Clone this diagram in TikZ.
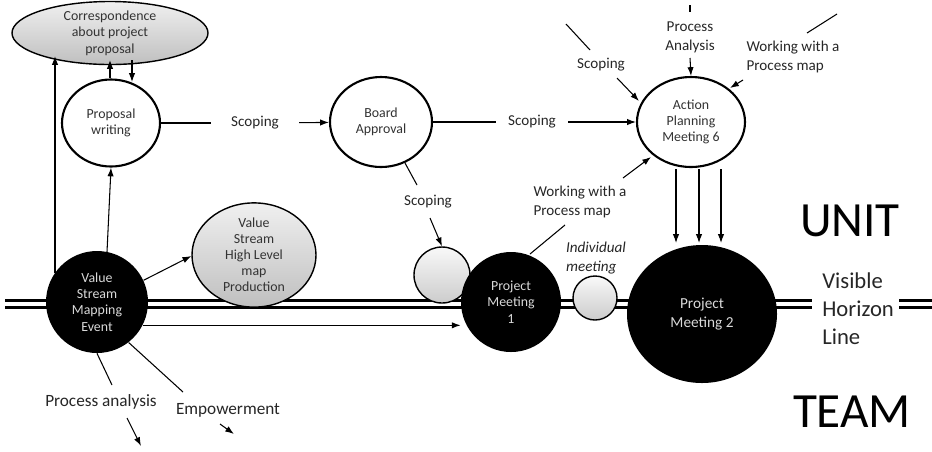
\documentclass[tikz,border=0pt]{standalone}
\usepackage{fontspec}
\setmainfont{Carlito}
\usetikzlibrary{arrows.meta,shapes.geometric,calc}
\newlength\pu \setlength\pu{0.02cm}
\begin{document}
\begin{tikzpicture}[x=0.02cm,y=-0.02cm,
  arr/.style={-{Latex[length=5pt,width=3.6pt]},line width=0.6pt},
  ln/.style={line width=0.6pt},
  nfont/.style={font=\fontsize{7.9}{9.3}\selectfont},
  wnode/.style={ellipse,draw,line width=1.2pt,fill=white,inner sep=0pt,align=center,nfont,text=black!80},
  gnode/.style={ellipse,draw,line width=0.8pt,top color=gray!12,bottom color=gray!50,inner sep=0pt,align=center,nfont,text=black!80},
  bnode/.style={circle,fill=black,inner sep=0pt,align=center,text=white!85!black,nfont},
  sgnode/.style={circle,draw,line width=0.8pt,top color=gray!5,bottom color=gray!40,inner sep=0pt},
  lbl/.style={align=center,font=\fontsize{8.6}{10.8}\selectfont,text=black!85,inner sep=1pt},
  blbl/.style={align=center,font=\fontsize{9.8}{12}\selectfont,text=black!85,inner sep=1pt},
  horizon/.style={line width=1.7pt}
]
\useasboundingbox (0,0) rectangle (932,451);

% horizon line
\draw[horizon] (5,300) -- (812,300) (5,307.5) -- (812,307.5);
\draw[horizon] (899,300) -- (932,300) (899,307.5) -- (932,307.5);

% nodes
\node[gnode,minimum width=196\pu,minimum height=55\pu] (corr) at (110,33) {Correspondence\\about project\\proposal};
\node[wnode,minimum width=98\pu,minimum height=87\pu] (prop) at (111,123) {Proposal\\writing};
\node[wnode,minimum width=102\pu,minimum height=90\pu] (board) at (381,122) {Board\\Approval};
\node[wnode,minimum width=108\pu,minimum height=90\pu] (apm) at (691,122) {Action\\Planning\\Meeting 6};
\node[bnode,minimum size=102\pu] (vsm) at (97,302) {Value\\Stream\\Mapping\\Event};
\node[gnode,minimum width=124\pu,minimum height=86\pu,font=\fontsize{7.9}{9.1}\selectfont] (vshl) at (254,255) {Value\\Stream\\High Level\\map\\Production};
\node[sgnode,minimum size=56\pu] (sg1) at (442,275) {};
\node[bnode,minimum size=100\pu] (pm1) at (511,302) {Project\\Meeting\\1};
\node[sgnode,minimum size=44\pu] (sg2) at (595,298) {};
\node[bnode,ellipse,minimum width=150\pu,minimum height=138\pu,font=\fontsize{8.7}{10.5}\selectfont] (pm2) at (702,314) {Project\\Meeting 2};

% labels
\node[lbl,inner xsep=20\pu] (sA) at (255,123) {Scoping};
\node[lbl,inner xsep=12\pu] (sB) at (532,122) {Scoping};
\node[lbl] (sC) at (601,65) {Scoping};
\node[lbl] (sD) at (428,202) {Scoping};
\node[lbl] (pa) at (690,37) {Process\\Analysis};
\node[lbl,align=left] (wpU) at (793,57) {Working with a\\Process map};
\node[lbl,align=left] (wpL) at (580,202) {Working with a\\Process map};
\node[lbl,font=\fontsize{8.6}{10.8}\selectfont\itshape,align=left] (ind) at (596,258) {Individual\\meeting};
\node[blbl] (pran) at (101,402) {Process analysis};
\node[blbl] (emp) at (228,410) {Empowerment};
\node[font=\fontsize{28}{30}\selectfont,inner sep=0pt] (unit) at (850,221) {UNIT};
\node[font=\fontsize{28}{30}\selectfont,inner sep=0pt] (team) at (852,412) {TEAM};
\node[font=\fontsize{12.9}{15.9}\selectfont,align=left,text=black!85,inner sep=0pt,anchor=west] (vhl) at (822,309) {Visible\\Horizon\\Line};

% free ends
\coordinate (sCa) at (566,24); \coordinate (sCb) at (590,50);
\coordinate (sCc) at (617,78); \coordinate (apmL) at (639,101);
\coordinate (paT1) at (690,5); \coordinate (paT2) at (690,12);
\coordinate (paA) at (690,58);
\coordinate (wpUa) at (807,33); \coordinate (wpUb) at (837,14);
\coordinate (wpUc) at (743,80); \coordinate (apmR) at (730,88);
\coordinate (wpLa) at (623,178); \coordinate (apmB) at (651,157);
\coordinate (wpLc) at (565,225); \coordinate (pm1T) at (530,254);
\coordinate (sDa) at (405,163); \coordinate (sDb) at (417,185);
\coordinate (sDc) at (430,218);
\coordinate (pranA) at (112,385);
\coordinate (pranB) at (127,418); \coordinate (pranC) at (141,446);
\coordinate (empA) at (183,392);
\coordinate (empB) at (220,424); \coordinate (empC) at (234,434);
\coordinate (corrL) at (55,56);

% connectors
\draw[ln] (prop) -- (sA);
\draw[arr] (sA) -- (board);
\draw[ln] (board) -- (sB);
\draw[arr] (sB) -- (apm);
\draw[ln] (sCa) -- (sCb);
\draw[arr] (sCc) -- (apmL);
\draw[ln] (paT1) -- (paT2);
\draw[arr] (paA) -- (apm.north);
\draw[ln] (wpUa) -- (wpUb);
\draw[arr] (wpUc) -- (apmR);
\draw[arr] (wpLa) -- (apmB);
\draw[ln] (wpLc) -- (pm1T);
\draw[ln] (sDa) -- (sDb);
\draw[arr] (sDc) -- (sg1.north);

% action planning to project meeting 2
\foreach \xx in {676,699,721}{
  \draw[arr] (\xx,169) -- (\xx,243);
}

% correspondence and proposal
\draw[arr] (prop.north -| 110,0) -- (110,60);
\draw[arr] (132,60) -- (132,82);
\draw[arr] (vsm.145 -| corrL) -- (corrL);
\draw[arr] (107,252) -- (prop.south);
\draw[arr] (vsm.25) -- (vshl.west |- 0,256);
\path (vsm.-27) coordinate (vsmE);
\draw[arr] (vsmE) -- (vsmE -| pm1.west);
\draw[ln] (vsm.south) -- (pranA);
\draw[arr] (pranB) -- (pranC);
\draw[ln] (vsm.-52) -- (empA);
\draw[arr] (empB) -- (empC);
\end{tikzpicture}
\end{document}
